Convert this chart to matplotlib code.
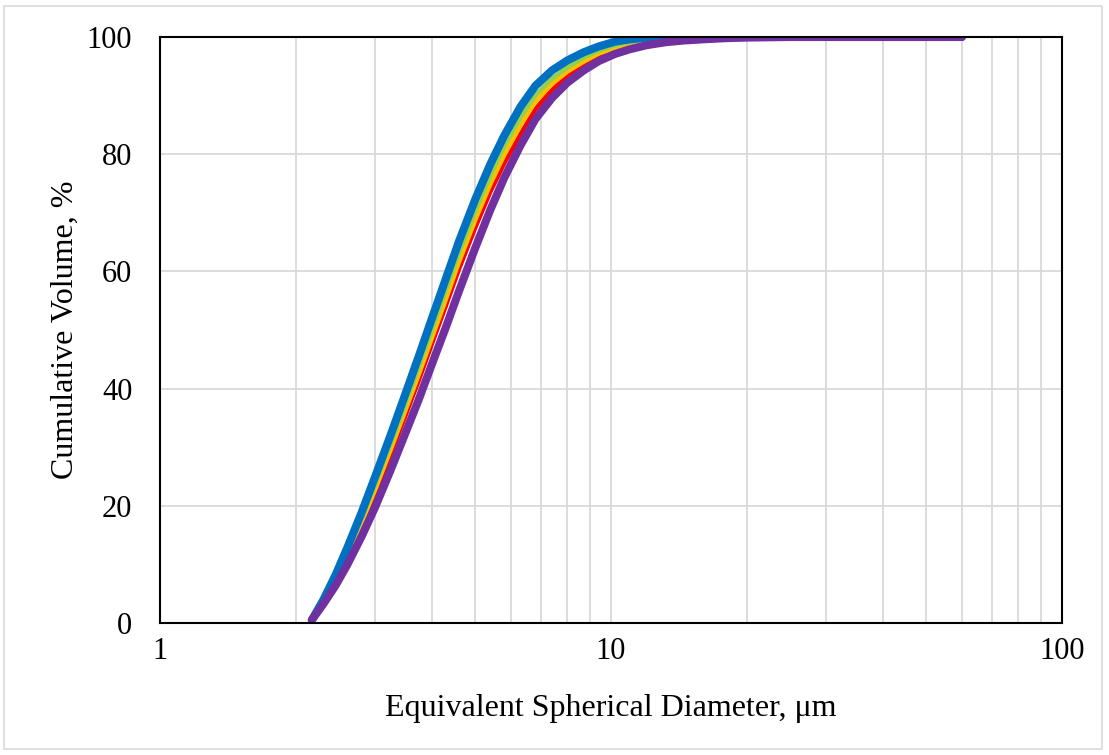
import matplotlib.pyplot as plt
from matplotlib.patches import Rectangle
from matplotlib.ticker import FixedLocator, NullFormatter, LogLocator

plt.rcParams['font.family'] = ['Liberation Serif', 'DejaVu Serif']

# particle size classes (um)
diam = [2.17, 2.3, 2.45, 2.6, 2.8, 3.0, 3.25, 3.5, 3.75, 4.0, 4.3, 4.6, 5.0, 5.4, 5.8,
        6.3, 6.8, 7.4, 8.0, 8.7, 9.4, 10.2, 11.0, 12.0, 13.2, 14.5, 16, 18, 20, 25,
        30, 40, 50, 60]

# cumulative volume (%) per sample
v_blue = [0.5, 3.9, 8.2, 12.8, 18.9, 25.0, 32.2, 39.1, 45.6, 51.8, 58.7, 65.1, 72.3, 78.3, 83.2,
          88.1, 91.7, 94.3, 96.0, 97.4, 98.4, 99.2, 99.6, 99.9, 100, 100, 100, 100, 100, 100,
          100, 100, 100, 100]
v_green = [0.5, 3.7, 7.75, 12.1, 17.9, 23.7, 30.7, 37.4, 43.8, 49.9, 56.8, 63.1, 70.3, 76.4, 81.4,
           86.3, 90.1, 92.9, 94.8, 96.5, 97.7, 98.6, 99.15, 99.55, 99.8, 99.95, 100, 100, 100, 100,
           100, 100, 100, 100]
v_orange = [0.5, 3.6, 7.4, 11.6, 17.2, 22.8, 29.7, 36.3, 42.5, 48.5, 55.2, 61.6, 68.8, 74.9, 79.9,
            85.0, 89.0, 92.0, 94.1, 95.8, 97.2, 98.1, 98.7, 99.2, 99.55, 99.8, 99.95, 100, 100, 100,
            100, 100, 100, 100]
v_red = [0.5, 3.5, 7.2, 11.2, 16.6, 22.1, 28.9, 35.4, 41.5, 47.5, 54.1, 60.4, 67.5, 73.6, 78.5,
         83.4, 87.7, 91.0, 93.5, 95.2, 96.6, 97.4, 98.1, 98.6, 99.0, 99.3, 99.5, 99.7, 99.85, 100,
         100, 100, 100, 100]
v_purple = [0.5, 3.2, 6.4, 9.9, 14.8, 19.8, 26.2, 32.4, 38.2, 44.0, 50.4, 56.6, 64.0, 70.5, 76.0,
            81.5, 86.0, 89.6, 92.2, 94.3, 95.9, 97.1, 97.9, 98.6, 99.1, 99.4, 99.6, 99.8, 99.9, 100,
            100, 100, 100, 100]

fig = plt.figure(figsize=(11.09, 7.55), dpi=100)
ax = fig.add_axes([0.1443, 0.1748, 0.8133, 0.7762])

ax.plot(diam, v_red, color='#FF0000', lw=3.3, solid_capstyle='round', zorder=2)
ax.plot(diam, v_orange, color='#FFC000', lw=3.3, solid_capstyle='round', zorder=2.1)
ax.plot(diam, v_green, color='#92D050', lw=3.3, solid_capstyle='round', zorder=2.2)
ax.plot(diam, v_blue, color='#0070C0', lw=5.8, solid_capstyle='round', zorder=3)
ax.plot(diam, v_purple, color='#7030A0', lw=5.8, solid_capstyle='round', zorder=4)

ax.set_xscale('log')
ax.set_xlim(1, 100)
ax.set_ylim(0, 100)
ax.set_yticks([0, 20, 40, 60, 80, 100])
ax.xaxis.set_major_locator(FixedLocator([1, 10, 100]))
ax.set_xticklabels(['1', '10', '100'])
ax.xaxis.set_minor_locator(LogLocator(base=10, subs=range(2, 10)))
ax.xaxis.set_minor_formatter(NullFormatter())

ax.grid(True, which='both', axis='x', color='#D9D9D9', lw=1.3)
ax.grid(True, which='major', axis='y', color='#D9D9D9', lw=1.3)
ax.set_axisbelow(True)

ax.tick_params(which='both', length=0, labelsize=22)
ax.tick_params(axis='x', pad=10)
ax.tick_params(axis='y', pad=20)
for s in ax.spines.values():
    s.set_linewidth(1.5)
    s.set_color('black')
    s.set_zorder(5)

ax.set_xlabel('Equivalent Spherical Diameter, \u03bcm', fontsize=23, va='center')
ax.set_ylabel('Cumulative Volume, %', fontsize=23, va='center')
ax.xaxis.set_label_coords(0.5, -0.145)
ax.yaxis.set_label_coords(-0.105, 0.5)

fig.patches.append(Rectangle((0.004, 0.008), 0.99, 0.984, transform=fig.transFigure,
                             fill=False, edgecolor='#D9D9D9', lw=1.2))

fig.savefig('out.png', dpi=100)
